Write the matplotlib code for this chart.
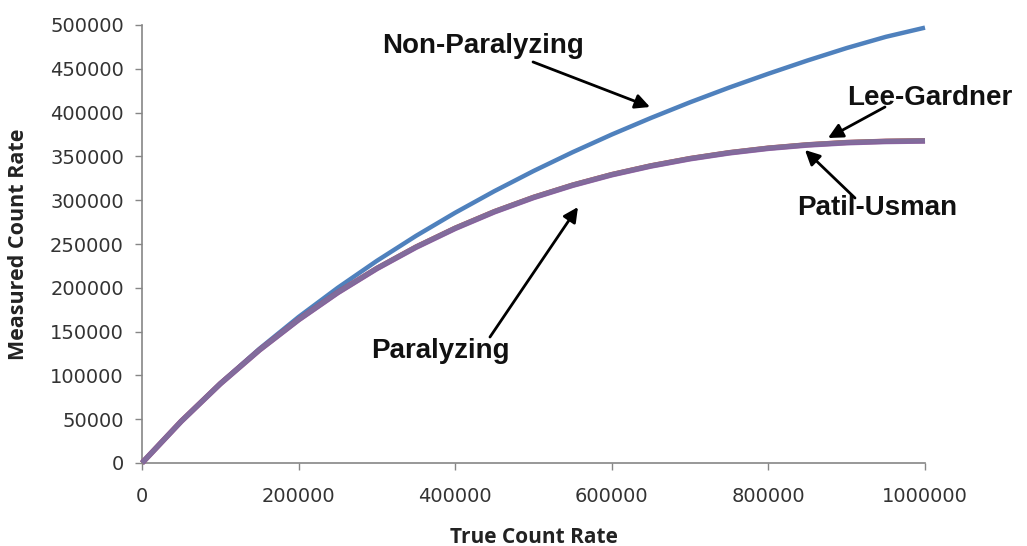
import matplotlib
matplotlib.use("Agg")
import matplotlib.pyplot as plt
from matplotlib.ticker import FuncFormatter

# Data
true_rate = [0, 50000, 100000, 150000, 200000, 250000, 300000, 350000, 400000, 450000,
             500000, 550000, 600000, 650000, 700000, 750000, 800000, 850000, 900000,
             950000, 1000000]
non_paralyzing = [0, 47600, 90900, 130400, 166700, 200000, 230800, 259300, 285700, 310300,
                  333300, 354800, 375000, 393900, 411800, 428600, 444400, 459500, 473700,
                  486500, 497000]
paralyzing = [0, 47600, 90500, 129100, 163700, 194700, 222200, 246600, 268100, 287000,
              303300, 317300, 329300, 339300, 347600, 354300, 359500, 363300, 365900,
              367300, 367900]
lee_gardner = [0, 47600, 90500, 129200, 163800, 194900, 222500, 246900, 268400, 287300,
               303600, 317600, 329600, 339600, 347900, 354600, 359800, 363600, 366200,
               367600, 368200]
patil_usman = [0, 47500, 90400, 129000, 163500, 194500, 222000, 246300, 267800, 286700,
               303000, 317000, 329000, 339000, 347300, 354000, 359200, 363000, 365600,
               367000, 367600]

x_ticks = [0, 200000, 400000, 600000, 800000, 1000000]
y_ticks = [0, 50000, 100000, 150000, 200000, 250000, 300000, 350000, 400000, 450000, 500000]

W, H = 1027, 546
fig = plt.figure(figsize=(W / 100, H / 100), dpi=100)
L, R, B, T = 142, 925, 463, 25
ax = fig.add_axes([L / W, 1 - B / H, (R - L) / W, (B - T) / H])

ax.plot(true_rate, non_paralyzing, color="#4F81BD", lw=3.2, clip_on=False, zorder=3,
        solid_capstyle="butt")
ax.plot(true_rate, paralyzing, color="#C0504D", lw=3.8, clip_on=False, zorder=3,
        solid_capstyle="butt")
ax.plot(true_rate, lee_gardner, color="#9BBB59", lw=3.0, clip_on=False, zorder=3,
        solid_capstyle="butt")
ax.plot(true_rate, patil_usman, color="#7D5FA8", lw=4.0, alpha=0.85, clip_on=False, zorder=4,
        solid_capstyle="butt")

ax.set_xlim(0, 1000000)
ax.set_ylim(0, 500000)
ax.set_xticks(x_ticks)
ax.set_yticks(y_ticks)
fmt = FuncFormatter(lambda v, p: "%d" % v)
ax.xaxis.set_major_formatter(fmt)
ax.yaxis.set_major_formatter(fmt)

for s in ["top", "right"]:
    ax.spines[s].set_visible(False)
for s in ["left", "bottom"]:
    ax.spines[s].set_color("#868686")
    ax.spines[s].set_linewidth(1.2)

ax.tick_params(axis="both", direction="out", length=5, width=1.0, color="#868686",
               labelcolor="#333333", labelsize=14)
ax.tick_params(axis="y", pad=8)
ax.tick_params(axis="x", pad=12)
for lab in ax.get_xticklabels() + ax.get_yticklabels():
    lab.set_family("DejaVu Sans")

ax.set_xlabel("True Count Rate", fontsize=15, fontweight="bold", family="Open Sans",
              color="#222222")
ax.set_ylabel("Measured Count Rate", fontsize=15.5, fontweight="bold", family="Open Sans",
              color="#222222")
ax.xaxis.set_label_coords(0.5, -0.169)
ax.yaxis.set_label_coords(-0.158, 0.5)
ax.xaxis.label.set_va("center")
ax.yaxis.label.set_va("center")

tfont = dict(fontsize=20, fontweight="bold", family="Liberation Sans", color="#111111",
             ha="center", va="baseline", clip_on=False)
ax.text(435500, 468000, "Non-Paralyzing", **tfont)
ax.text(1006000, 408700, "Lee-Gardner", **tfont)
ax.text(938700, 283100, "Patil-Usman", **tfont)
ax.text(380600, 119900, "Paralyzing", **tfont)

aprops = dict(arrowstyle="-|>", color="black", lw=2.0, mutation_scale=22,
              shrinkA=0, shrinkB=0)
ax.annotate("", xy=(648800, 406400), xytext=(499400, 457800), arrowprops=aprops,
            annotation_clip=False)
ax.annotate("", xy=(876100, 371000), xytext=(948900, 406400), arrowprops=aprops,
            annotation_clip=False)
ax.annotate("", xy=(846700, 357300), xytext=(910600, 302500), arrowprops=aprops,
            annotation_clip=False)
ax.annotate("", xy=(556800, 292200), xytext=(444400, 143800), arrowprops=aprops,
            annotation_clip=False)

fig.savefig("out.png", dpi=100)
